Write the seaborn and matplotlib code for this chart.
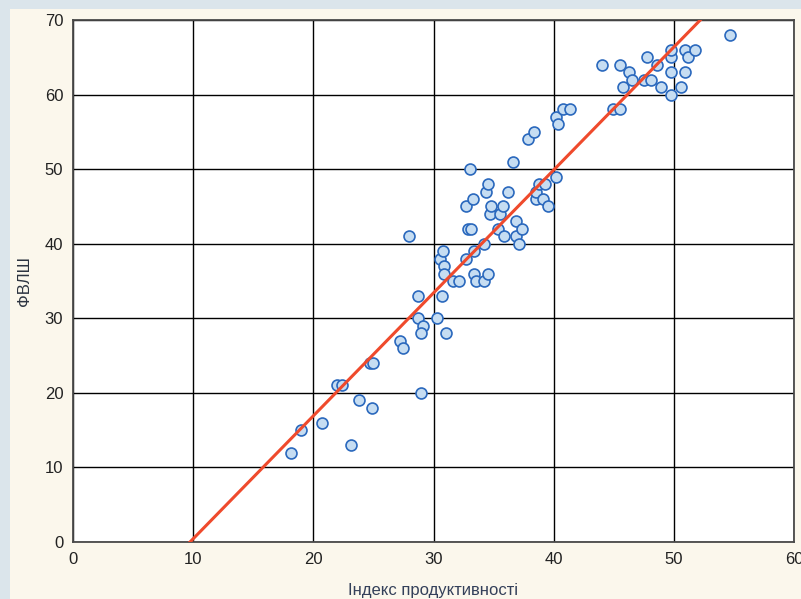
import pandas as pd
import matplotlib
matplotlib.use('Agg')
import matplotlib.pyplot as plt
import seaborn as sns
from matplotlib.patches import Rectangle

# ------------------------------------------------------ #
# DANI
# ------------------------------------------------------ #
index_vals = [18.1, 19.0, 20.7, 23.1, 22.0, 22.4, 23.8, 24.9, 24.7, 25.0,
              27.2, 27.5, 28.0, 28.7, 28.7, 29.1, 29.0, 29.0, 30.3, 31.0,
              30.7, 30.5, 30.8, 30.9, 30.9, 31.6, 32.1, 32.7, 32.7, 33.0,
              32.9, 33.1, 33.3, 33.4, 33.4, 33.5, 34.2, 34.2, 34.4, 34.5,
              34.5, 34.7, 34.8, 35.4, 35.5, 35.8, 35.9, 36.2, 36.6, 36.9,
              36.9, 37.1, 37.4, 37.9, 38.4, 38.5, 38.5, 38.8, 39.1, 39.3,
              39.5, 40.2, 40.2, 40.4, 40.8, 41.4, 44.0, 44.9, 45.5, 45.5,
              45.8, 46.3, 46.5, 47.5, 47.8, 48.1, 48.6, 48.9, 49.8, 49.8,
              49.8, 49.8, 50.6, 50.9, 50.9, 51.2, 51.8, 54.7]
fvlsh_vals = [12, 15, 16, 13, 21, 21, 19, 18, 24, 24,
              27, 26, 41, 33, 30, 29, 28, 20, 30, 28,
              33, 38, 39, 37, 36, 35, 35, 38, 45, 50,
              42, 42, 46, 39, 36, 35, 40, 35, 47, 48,
              36, 44, 45, 42, 44, 45, 41, 47, 51, 41,
              43, 40, 42, 54, 55, 46, 47, 48, 46, 48,
              45, 49, 57, 56, 58, 58, 64, 58, 64, 58,
              61, 63, 62, 62, 65, 62, 64, 61, 60, 63,
              65, 66, 61, 63, 66, 65, 66, 68]
x_ticks = [0, 10, 20, 30, 40, 50, 60]
y_ticks = [0, 10, 20, 30, 40, 50, 60, 70]

df = pd.DataFrame({'Індекс продуктивності': index_vals, 'ФВЛШ': fvlsh_vals})

# ------------------------------------------------------ #
# STILE
# ------------------------------------------------------ #
sns.set_theme(style="white")
plt.rcParams['font.family'] = ['Liberation Sans', 'DejaVu Sans']

fig = plt.figure(figsize=(8.01, 5.99), dpi=100, facecolor='#fbf7ec')
# bordo azzurrino in alto e a sinistra
fig.patches.append(Rectangle((0, 1 - 9 / 599), 1, 9 / 599, transform=fig.transFigure,
                             facecolor='#dbe5eb', edgecolor='none', zorder=0))
fig.patches.append(Rectangle((0, 0), 10 / 801, 1, transform=fig.transFigure,
                             facecolor='#dbe5eb', edgecolor='none', zorder=0))

ax = fig.add_axes([73 / 801, 57 / 599, 721 / 801, 522 / 599])
ax.set_facecolor('white')
ax.set_xlim(0, 60)
ax.set_ylim(0, 70)

sns.regplot(data=df, x='Індекс продуктивності', y='ФВЛШ', ci=None, truncate=False, ax=ax,
            scatter_kws=dict(s=62, facecolor='#c6ddf2', edgecolor='#2a68bd',
                             linewidths=1.2, alpha=1, zorder=3),
            line_kws=dict(color='#ef4a2c', lw=2.2, zorder=4))

ax.set_xlim(0, 60)
ax.set_ylim(0, 70)
ax.set_xticks(x_ticks)
ax.set_yticks(y_ticks)
ax.grid(True, color='black', lw=1.0)
ax.set_axisbelow(True)
for sp in ax.spines.values():
    sp.set_color('#4a4a4a')
    sp.set_linewidth(1.3)
ax.tick_params(length=0, labelsize=12, colors='#222222', pad=7)
ax.set_xlabel('Індекс продуктивності', fontsize=12, color='#34405a', va='center')
ax.set_ylabel('ФВЛШ', fontsize=12, color='#2c3340', va='center')
ax.xaxis.set_label_coords(0.5, (542 - 590) / 522)
ax.yaxis.set_label_coords((25 - 73) / 721, 0.5)

plt.savefig('out.png', dpi=100, facecolor=fig.get_facecolor())
